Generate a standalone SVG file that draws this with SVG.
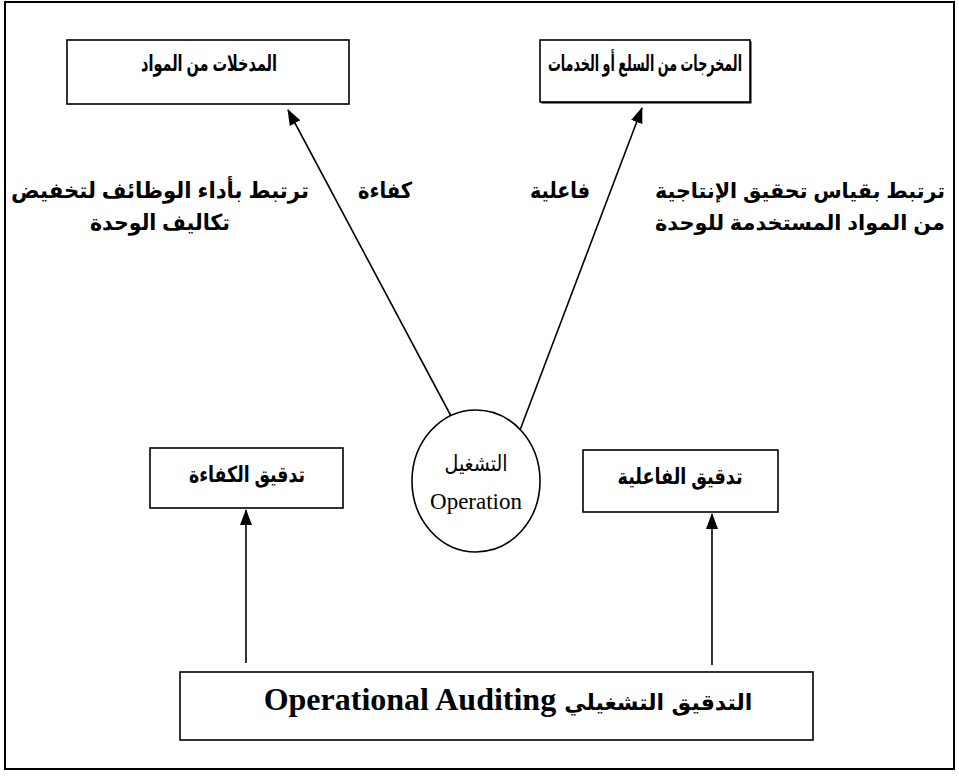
<svg xmlns="http://www.w3.org/2000/svg" width="959" height="776" viewBox="0 0 959 776">
<style>
  .frame{fill:none;stroke:#000;stroke-width:2}
  .box{fill:#fff;stroke:#000;stroke-width:1.6}
  .ar{font-family:"Liberation Sans","DejaVu Sans",sans-serif;font-weight:bold;fill:#000;text-anchor:middle}
  .t21{font-size:21px}
  .t22{font-size:22px}
  .serif{font-family:"Liberation Serif","DejaVu Sans",serif;fill:#000;text-anchor:middle}
  .conn{stroke:#000;stroke-width:1.6;fill:none;marker-end:url(#ah)}
</style>
<defs>
  <marker id="ah" viewBox="0 0 16 12" refX="15" refY="6" markerWidth="16" markerHeight="12" markerUnits="userSpaceOnUse" orient="auto">
    <path d="M0,0 L16,6 L0,12 Z" fill="#000"/>
  </marker>
</defs>
<rect width="959" height="776" fill="#fff"/>
<rect class="frame" x="5" y="2" width="949" height="767"/>

<g id="connectors">
  <line class="conn" x1="467" y1="446" x2="288" y2="110"/>
  <line class="conn" x1="514" y1="446" x2="642" y2="108"/>
  <line class="conn" x1="246" y1="663" x2="246" y2="510"/>
  <line class="conn" x1="712" y1="665" x2="712" y2="514"/>
</g>

<g id="inputs">
  <rect class="box" x="67" y="40" width="282" height="64"/>
  <text class="ar t22" x="209" y="71" textLength="136" lengthAdjust="spacingAndGlyphs">المدخلات من المواد</text>
</g>
<g id="outputs">
  <rect x="541.5" y="41.5" width="210" height="62" fill="#000"/>
  <rect class="box" x="540" y="40" width="210" height="62"/>
  <text class="ar t22" x="645" y="71" textLength="194" lengthAdjust="spacingAndGlyphs">المخرجات من السلع أو الخدمات</text>
</g>

<g id="label-efficiency">
  <text class="ar t22" x="385" y="198" textLength="54" lengthAdjust="spacingAndGlyphs">كفاءة</text>
  <text class="ar t22" x="160" y="198" textLength="298" lengthAdjust="spacingAndGlyphs">ترتبط بأداء الوظائف لتخفيض</text>
  <text class="ar t22" x="160" y="230" textLength="140" lengthAdjust="spacingAndGlyphs">تكاليف الوحدة</text>
</g>
<g id="label-effectiveness">
  <text class="ar t22" x="560" y="198" textLength="60" lengthAdjust="spacingAndGlyphs">فاعلية</text>
  <text class="ar t21" x="800" y="198" textLength="290" lengthAdjust="spacingAndGlyphs">ترتبط بقياس تحقيق الإنتاجية</text>
  <text class="ar t21" x="800" y="230" textLength="290" lengthAdjust="spacingAndGlyphs">من المواد المستخدمة للوحدة</text>
</g>

<g id="operation">
  <ellipse cx="476" cy="481" rx="64" ry="71" fill="#fff" stroke="#000" stroke-width="1.6"/>
  <text class="serif" x="476" y="471" font-size="22" textLength="63" lengthAdjust="spacingAndGlyphs">التشغيل</text>
  <text class="serif" x="476" y="509" font-size="23">Operation</text>
</g>

<g id="efficiency-audit">
  <rect class="box" x="150" y="448" width="193" height="60"/>
  <text class="ar t22" x="247" y="482" textLength="116" lengthAdjust="spacingAndGlyphs">تدقيق الكفاءة</text>
</g>
<g id="effectiveness-audit">
  <rect class="box" x="583" y="450" width="195" height="62"/>
  <text class="ar t22" x="680" y="484" textLength="125" lengthAdjust="spacingAndGlyphs">تدقيق الفاعلية</text>
</g>

<g id="operational-auditing">
  <rect class="box" x="180" y="672" width="633" height="68"/>
  <text class="serif" x="508" y="710" font-weight="bold" direction="rtl"><tspan font-family="DejaVu Sans, sans-serif" font-size="22">التدقيق التشغيلي</tspan><tspan font-size="32"> Operational Auditing</tspan></text>
</g>
</svg>
